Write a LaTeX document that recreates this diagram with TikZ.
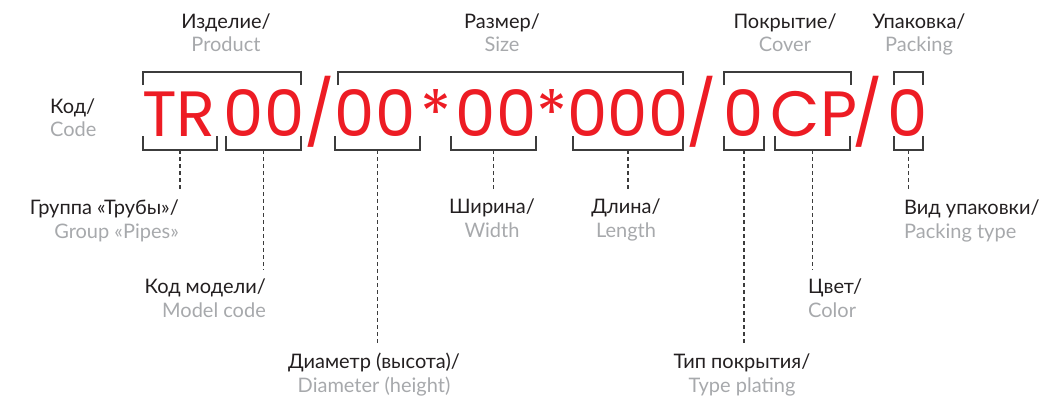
\documentclass[tikz,border=0pt]{standalone}
\usepackage{fontspec}
\setmainfont{Lato}
\newfontfamily\codefont{Poppins}

\definecolor{codered}{HTML}{ED1C24}
\definecolor{txtgray}{HTML}{A7A9AC}
\definecolor{txtblack}{HTML}{231F20}
\definecolor{brkgray}{HTML}{3C3C3C}

\begin{document}
\begin{tikzpicture}[
                x=1pt,
                y=-1pt,
                line join=miter,
                brk/.style={draw=brkgray, line width=1.8pt},
                leader/.style={draw=brkgray, line width=1.6pt, dash pattern=on 4pt off 3pt},
                code/.style={font=\codefont\fontsize{64}{64}\selectfont, text=codered, inner sep=0pt, anchor=base},
                ru/.style={font=\fontsize{20}{20}\selectfont, text=txtblack, inner sep=0pt, text height=14pt},
                en/.style={font=\fontsize{20}{20}\selectfont, text=txtgray, inner sep=0pt}
            ]

            \useasboundingbox (0,0) rectangle (1051,396);

            % the code itself
            \foreach \nm/\cx/\txt in {
                tr/179/TR, mdl/264/00, sa/320/{/}, dia/375/00, ka/436/*,
                wid/496/00, kb/552/*, len/628/000, sb/702/{/},
                typ/744/0, col/814/CP, sc/868/{/}, pck/908/0} {
                \node[code] (c\nm) at (\cx,136) {\txt};
            }

            % brackets above
            \foreach \xa/\xb in {143/301, 338/683, 724/851, 894/923} {
                \draw[brk] (\xa,85) -- (\xa,72) -- (\xb,72) -- (\xb,85);
            }

            % brackets below
            \foreach \xa/\xb/\nm in {
                143/217/grp, 226/301/mdl, 335/420/dia, 451/536/wid,
                573/683/len, 724/764/typ, 775/850/col, 894/923/pck} {
                \draw[brk] (\xa,136) -- (\xa,150) -- (\xb,150) -- (\xb,136);
                \coordinate (\nm) at ({(\xa+\xb)/2},150);
            }

            % headings
            \node[ru, anchor=base west] (codeRu) at (50,113) {Код/};
            \node[en, anchor=base west] (codeEn) at (50,136) {Code};

            \foreach \nm/\px/\rutxt/\entxt in {
                prd/226/{Изделие/}/{Product},
                siz/502/{Размер/}/{Size},
                cov/785/{Покрытие/}/{Cover},
                pak/919/{Упаковка/}/{Packing}} {
                \node[ru, anchor=base] (\nm Ru) at (\px,29) {\rutxt};
                \node[en, anchor=base] (\nm En) at (\px,52) {\entxt};
            }

            % parts
            \foreach \nm/\px/\py/\anc/\rutxt/\entxt in {
                grp/179/214/base east/{Группа «Трубы»/}/{Group «Pipes»},
                mdl/266/293/base east/{Код модели/}/{Model code},
                dia/374/368/base/{Диаметр (высота)/}/{Diameter (height)},
                wid/492/213/base/{Ширина/}/{Width},
                len/626/213/base/{Длина/}/{Length},
                typ/742/368/base/{Тип покрытия/}/{Type plating},
                col/808/293/base west/{Цвет/}/{Color},
                pck/904/214/base west/{Вид упаковки/}/{Packing type}} {
                \node[ru, anchor=\anc] (\nm Ru) at (\px,\py) {\rutxt};
                \node[en, anchor=\anc] (\nm En) at (\px,\py+24) {\entxt};
                \draw[leader] (\nm) -- ([yshift=9pt]\nm |- \nm Ru.north);
            }

        \end{tikzpicture}
\end{document}
